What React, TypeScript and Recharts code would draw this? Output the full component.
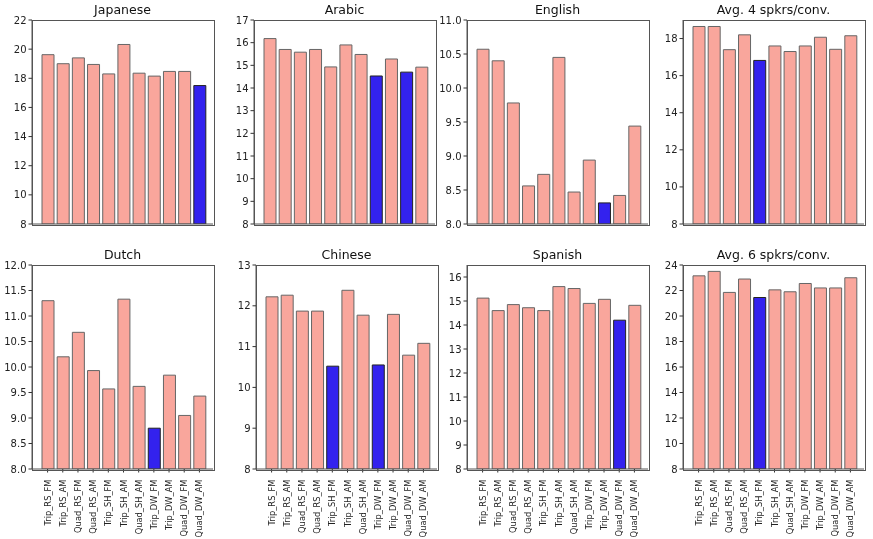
import { BarChart, Bar, XAxis, YAxis, Cell } from "recharts";

const configs = [
  "Trip_RS_FM",
  "Trip_RS_AM",
  "Quad_RS_FM",
  "Quad_RS_AM",
  "Trip_SH_FM",
  "Trip_SH_AM",
  "Quad_SH_AM",
  "Trip_DW_FM",
  "Trip_DW_AM",
  "Quad_DW_FM",
  "Quad_DW_AM",
];

const japanese = [19.62, 19.0, 19.4, 18.95, 18.3, 20.32, 18.35, 18.15, 18.47, 18.47, 17.5];
const arabic = [16.18, 15.7, 15.58, 15.7, 14.93, 15.9, 15.48, 14.53, 15.28, 14.7, 14.92];
const english = [10.57, 10.4, 9.78, 8.56, 8.73, 10.45, 8.47, 8.94, 8.31, 8.42, 9.44];
const avg4 = [18.65, 18.65, 17.4, 18.2, 16.82, 17.6, 17.3, 17.6, 18.07, 17.42, 18.15];
const dutch = [11.3, 10.2, 10.68, 9.93, 9.57, 11.33, 9.62, 8.8, 9.84, 9.05, 9.43];
const chinese = [12.22, 12.26, 11.87, 11.87, 10.52, 12.38, 11.77, 10.55, 11.79, 10.79, 11.08];
const spanish = [15.12, 14.6, 14.85, 14.72, 14.6, 15.6, 15.52, 14.9, 15.07, 14.2, 14.82];
const avg6 = [23.15, 23.5, 21.85, 22.9, 21.45, 22.05, 21.9, 22.55, 22.2, 22.2, 23.0];

// which bars are highlighted (best system per language)
const bestJapanese = [10];
const bestArabic = [7, 9];
const bestEnglish = [8];
const bestAvg4 = [4];
const bestDutch = [7];
const bestChinese = [4, 7];
const bestSpanish = [9];
const bestAvg6 = [4];

const ticksJapanese = [8, 10, 12, 14, 16, 18, 20, 22];
const ticksArabic = [8, 9, 10, 11, 12, 13, 14, 15, 16, 17];
const ticksEnglish = [8, 8.5, 9, 9.5, 10, 10.5, 11];
const ticksAvg4 = [8, 10, 12, 14, 16, 18];
const ticksDutch = [8, 8.5, 9, 9.5, 10, 10.5, 11, 11.5, 12];
const ticksChinese = [8, 9, 10, 11, 12, 13];
const ticksSpanish = [8, 9, 10, 11, 12, 13, 14, 15, 16];
const ticksAvg6 = [8, 10, 12, 14, 16, 18, 20, 22, 24];

const FONT = "DejaVu Sans, sans-serif";
const SALMON = "#F9A69C";
const BLUE = "#3322EE";
const PLOT_W = 181;
const PLOT_H = 204;
const Y_W = 34;

type PanelProps = {
  title: string;
  values: number[];
  best: number[];
  ticks: number[];
  top: number;
  decimals: number;
  showLabels: boolean;
  left: number;
  y: number;
};

function RotatedTick(props: any) {
  const { x, y, payload } = props;
  return (
    <text
      x={x}
      y={y + 5}
      transform={`rotate(-90, ${x}, ${y + 5})`}
      textAnchor="end"
      dominantBaseline="central"
      fontSize={8.3}
      fontFamily={FONT}
      fill="#222"
    >
      {payload.value}
    </text>
  );
}

function Panel({ title, values, best, ticks, top, decimals, showLabels, left, y }: PanelProps) {
  const data = configs.map((name, i) => ({ name, value: values[i] }));
  const xHeight = showLabels ? 70 : 8;
  return (
    <div style={{ position: "absolute", left: left - Y_W, top: y - 20 }}>
      <div
        style={{
          position: "absolute",
          left: Y_W,
          width: PLOT_W,
          top: 2,
          textAlign: "center",
          fontFamily: FONT,
          fontSize: 12.5,
          color: "#111",
        }}
      >
        {title}
      </div>
      <BarChart
        width={Y_W + PLOT_W + 4}
        height={20 + PLOT_H + xHeight}
        data={data}
        margin={{ top: 20, right: 4, left: 0, bottom: 0 }}
      >
        <XAxis
          dataKey="name"
          interval={0}
          padding={{ left: 8, right: 6 }}
          height={xHeight}
          tickSize={3.5}
          axisLine={{ stroke: "#555" }}
          tickLine={{ stroke: "#333" }}
          tick={showLabels ? <RotatedTick /> : false}
        />
        <YAxis
          domain={[8, top]}
          ticks={ticks}
          width={Y_W}
          allowDataOverflow
          tickSize={3.5}
          axisLine={{ stroke: "#555" }}
          tickLine={{ stroke: "#333" }}
          tick={{ fontSize: 10, fontFamily: FONT, fill: "#222" }}
          tickFormatter={(v) => Number(v).toFixed(decimals)}
        />
        <Bar dataKey="value" barSize={12} strokeWidth={1} isAnimationActive={false}>
          {data.map((_, i) => (
            <Cell
              key={i}
              fill={best.includes(i) ? BLUE : SALMON}
              stroke={best.includes(i) ? "#222" : "#666"}
            />
          ))}
        </Bar>
      </BarChart>
      {/* axes frame */}
      <div
        style={{
          position: "absolute",
          left: Y_W - 0.5,
          top: 19.5,
          width: PLOT_W,
          height: PLOT_H,
          border: "1px solid #555",
          pointerEvents: "none",
        }}
      />
    </div>
  );
}

export default function App() {
  return (
    <div style={{ position: "fixed", left: 0, top: 0, width: 873, height: 539, background: "#fff" }}>
      <Panel title="Japanese" values={japanese} best={bestJapanese} ticks={ticksJapanese} top={22} decimals={0} showLabels={false} left={32} y={20} />
      <Panel title="Arabic" values={arabic} best={bestArabic} ticks={ticksArabic} top={17} decimals={0} showLabels={false} left={254} y={20} />
      <Panel title="English" values={english} best={bestEnglish} ticks={ticksEnglish} top={11} decimals={1} showLabels={false} left={467} y={20} />
      <Panel title="Avg. 4 spkrs/conv." values={avg4} best={bestAvg4} ticks={ticksAvg4} top={19} decimals={0} showLabels={false} left={683} y={20} />
      <Panel title="Dutch" values={dutch} best={bestDutch} ticks={ticksDutch} top={12} decimals={1} showLabels={true} left={32} y={265} />
      <Panel title="Chinese" values={chinese} best={bestChinese} ticks={ticksChinese} top={13} decimals={0} showLabels={true} left={256} y={265} />
      <Panel title="Spanish" values={spanish} best={bestSpanish} ticks={ticksSpanish} top={16.5} decimals={0} showLabels={true} left={467} y={265} />
      <Panel title="Avg. 6 spkrs/conv." values={avg6} best={bestAvg6} ticks={ticksAvg6} top={24} decimals={0} showLabels={true} left={683} y={265} />
    </div>
  );
}
